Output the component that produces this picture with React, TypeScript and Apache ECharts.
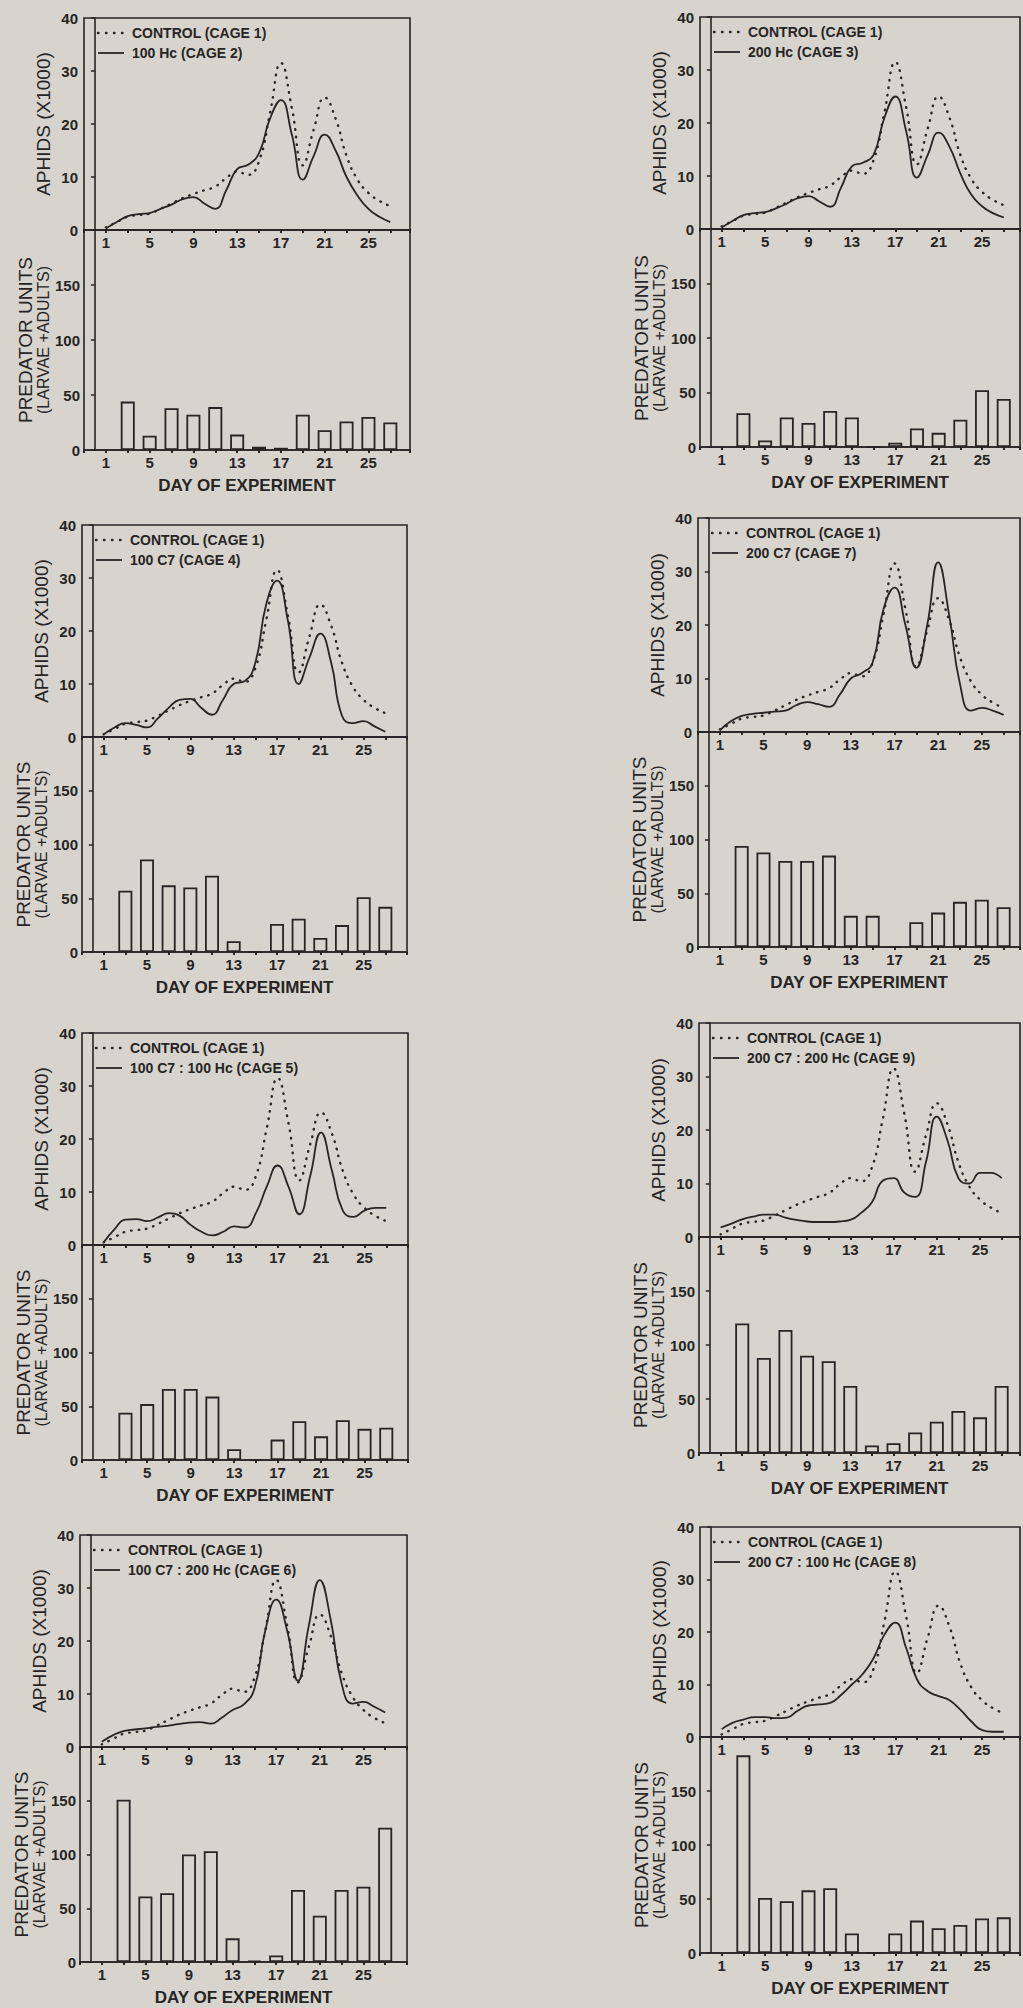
import React, { useEffect, useRef } from 'react';
import * as echarts from 'echarts';

// ---- data ----
const DAYS = [1, 2, 3, 4, 5, 6, 7, 8, 9, 10, 11, 12, 13, 14, 15, 16, 17, 18, 19, 20, 21, 22, 23, 24, 25, 26, 27];
const BAR_DAYS = [3, 5, 7, 9, 11, 13, 15, 17, 19, 21, 23, 25, 27];
const CONTROL_LABEL = 'CONTROL (CAGE 1)';
const CONTROL = [0.5, 1.5, 2.5, 2.8, 3.1, 4, 5, 6, 6.8, 7.5, 8.2, 9.8, 11, 10.4, 13, 22, 31.5, 23, 12.2, 19, 25, 21, 14, 9.5, 7, 5.5, 4.5];

const LABELS = [
  '100 Hc (CAGE 2)',
  '200 Hc (CAGE 3)',
  '100 C7 (CAGE 4)',
  '200 C7 (CAGE 7)',
  '100 C7 : 100 Hc (CAGE 5)',
  '200 C7 : 200 Hc (CAGE 9)',
  '100 C7 : 200 Hc (CAGE 6)',
  '200 C7 : 100 Hc (CAGE 8)',
];

const APHIDS_CAGE2 = [0.3, 1.5, 2.6, 3, 3.2, 4, 4.8, 5.8, 6.2, 5, 4, 7.5, 11.5, 12.3, 14.5, 21, 24.5, 18, 9.5, 14, 18, 15, 10, 6.5, 4, 2.5, 1.5];
const APHIDS_CAGE3 = [0.3, 1.5, 2.6, 3, 3.2, 3.9, 4.8, 5.8, 6.2, 5.2, 4.2, 7.8, 11.8, 12.5, 14, 21, 25, 18.5, 9.7, 14, 18.2, 15.5, 10.5, 6.5, 4.3, 3, 2.2];
const APHIDS_CAGE4 = [0.5, 1.8, 2.6, 2.3, 1.8, 3.5, 5.5, 7, 7.2, 5.5, 4.2, 7, 10, 10.5, 14, 25, 29.5, 22, 10, 15, 19.5, 14, 4, 2.6, 3, 2, 1];
const APHIDS_CAGE7 = [0.3, 2, 3, 3.4, 3.6, 3.8, 4, 5, 5.6, 5.2, 4.7, 7, 10, 11, 13, 23, 27, 20, 12, 20, 31.7, 22, 9, 4, 4.5, 4, 3.2];
const APHIDS_CAGE5 = [0.5, 3, 4.8, 4.9, 4.5, 5.2, 6, 5.5, 3.8, 2.5, 1.8, 2.5, 3.5, 3.3, 6, 11, 15, 11, 5.8, 13, 21.2, 14, 6.5, 5.3, 6.5, 7, 7];
const APHIDS_CAGE9 = [1.8, 2.5, 3.3, 3.8, 4.2, 4.2, 3.6, 3.2, 2.9, 2.8, 2.8, 2.9, 3.2, 4.5, 6.5, 10.5, 11, 8.3, 7.5, 14, 22.5, 18, 11, 10, 12, 12, 11];
const APHIDS_CAGE6 = [1, 2.2, 3, 3.3, 3.5, 3.8, 4, 4.3, 4.6, 4.7, 4.4, 5.5, 7, 8, 11, 22, 27.8, 22, 12.5, 23, 31.5, 24, 12, 8.2, 8.5, 7.6, 6.5];
const APHIDS_CAGE8 = [1.5, 2.7, 3.3, 3.8, 3.8, 3.6, 3.7, 5, 6, 6.2, 6.5, 8, 10, 12, 15, 19.5, 21.8, 17, 11, 8.7, 7.8, 7, 5.2, 3, 1.3, 1, 1];

const PRED_CAGE2 = [44, 13, 38, 32, 39, 14, 3, 2, 32, 18, 26, 30, 25];
const PRED_CAGE3 = [31, 6, 27, 22, 33, 27, 0, 4, 17, 13, 25, 52, 44];
const PRED_CAGE4 = [57, 86, 62, 60, 71, 10, 0, 26, 31, 13, 25, 51, 42];
const PRED_CAGE7 = [94, 88, 80, 80, 85, 29, 29, 0, 23, 32, 42, 44, 37];
const PRED_CAGE5 = [44, 52, 66, 66, 59, 10, 0, 19, 36, 22, 37, 29, 30];
const PRED_CAGE9 = [120, 88, 114, 90, 85, 62, 7, 9, 19, 29, 39, 33, 62];
const PRED_CAGE6 = [151, 61, 64, 100, 103, 22, 1, 6, 67, 43, 67, 70, 125];
const PRED_CAGE8 = [183, 51, 48, 58, 60, 18, 0, 18, 30, 23, 26, 32, 33];

const APHIDS = [APHIDS_CAGE2, APHIDS_CAGE3, APHIDS_CAGE4, APHIDS_CAGE7, APHIDS_CAGE5, APHIDS_CAGE9, APHIDS_CAGE6, APHIDS_CAGE8];
const PRED = [PRED_CAGE2, PRED_CAGE3, PRED_CAGE4, PRED_CAGE7, PRED_CAGE5, PRED_CAGE9, PRED_CAGE6, PRED_CAGE8];

const APHID_TICKS = { min: 0, max: 40, interval: 10 };
const PRED_TICKS = { min: 0, max: 200, interval: 50 };

// ---- layout (pixels) ----
const LAYOUT = [
  { left: 84, width: 326, top: 18, zero: 230, bottom: 450, xMax: 28.8 },
  { left: 700, width: 322, top: 17, zero: 229, bottom: 447, xMax: 28.5 },
  { left: 82, width: 325, top: 525, zero: 737, bottom: 952, xMax: 29 },
  { left: 698, width: 324, top: 518, zero: 732, bottom: 947, xMax: 28.5 },
  { left: 82, width: 326, top: 1033, zero: 1245, bottom: 1460, xMax: 29 },
  { left: 699, width: 323, top: 1023, zero: 1237, bottom: 1453, xMax: 28.7 },
  { left: 80, width: 327, top: 1535, zero: 1747, bottom: 1962, xMax: 29 },
  { left: 700, width: 322, top: 1527, zero: 1737, bottom: 1953, xMax: 28.5 },
];

const FONT = '"Liberation Sans", Arial, Helvetica, sans-serif';
const INK = '#262524';
const BG = '#d6d4cc';

const dayLabel = (v: number) => {
  const r = Math.round(v);
  if (Math.abs(v - r) > 1e-6) return '';
  return r >= 1 && r <= 25 && (r - 1) % 4 === 0 ? String(r) : '';
};

function buildOption() {
  const grid: any[] = [];
  const xAxis: any[] = [];
  const yAxis: any[] = [];
  const series: any[] = [];
  const graphic: any[] = [];

  const tickLabel = { color: INK, fontSize: 15, fontWeight: 'bold', fontFamily: FONT };

  LABELS.forEach((label, i) => {
    const L = LAYOUT[i];
    const ga = i * 2;
    const gp = i * 2 + 1;
    grid.push({ left: L.left, top: L.top, width: L.width, height: L.zero - L.top, show: true, borderColor: INK, borderWidth: 1.6, backgroundColor: 'transparent' });
    grid.push({ left: L.left, top: L.zero, width: L.width, height: L.bottom - L.zero, show: true, borderColor: INK, borderWidth: 1.6, backgroundColor: 'transparent' });

    const xCommon = {
      type: 'value', min: -1, max: L.xMax, interval: 2,
      axisLine: { show: true, lineStyle: { color: INK, width: 1.6 } },
      axisTick: { show: true, length: 3, lineStyle: { color: INK, width: 2 } },
      splitLine: { show: false },
      axisLabel: { ...tickLabel, margin: 5, formatter: dayLabel },
    };
    xAxis.push({ ...xCommon, gridIndex: ga });
    xAxis.push({
      ...xCommon, gridIndex: gp,
      name: 'DAY OF EXPERIMENT', nameLocation: 'middle', nameGap: 27,
      nameTextStyle: { color: INK, fontSize: 17, fontWeight: 'bold', fontFamily: FONT },
    });

    const yCommon = {
      type: 'value',
      axisLine: { show: true, lineStyle: { color: INK, width: 1.6 } },
      axisTick: { show: true, length: 4, lineStyle: { color: INK, width: 1.5 } },
      splitLine: { show: false },
      nameLocation: 'middle', nameRotate: 90,
    };
    yAxis.push({
      ...yCommon, gridIndex: ga, ...APHID_TICKS,
      axisLabel: { ...tickLabel, margin: 6 },
      name: 'APHIDS (X1000)', nameGap: 31,
      nameTextStyle: { color: INK, fontSize: 19, fontFamily: FONT },
    });
    yAxis.push({
      ...yCommon, gridIndex: gp, ...PRED_TICKS,
      axisLabel: { ...tickLabel, margin: 4, formatter: (v: number) => (v >= 200 ? '' : String(v)) },
      name: '{a|PREDATOR UNITS}\n{b|(LARVAE +ADULTS)}', nameGap: 31,
      nameTextStyle: {
        color: INK, fontFamily: FONT,
        rich: {
          a: { fontSize: 19, lineHeight: 19, color: INK, fontFamily: FONT },
          b: { fontSize: 16, lineHeight: 17, color: INK, fontFamily: FONT },
        },
      },
    });

    series.push({
      type: 'line', name: CONTROL_LABEL, xAxisIndex: ga, yAxisIndex: ga,
      data: DAYS.map((d, k) => [d, CONTROL[k]]),
      smooth: 0.5, symbol: 'none', silent: true,
      lineStyle: { color: INK, width: 2.4, type: [0.5, 7], cap: 'round' },
    });
    series.push({
      type: 'line', name: label, xAxisIndex: ga, yAxisIndex: ga,
      data: DAYS.map((d, k) => [d, APHIDS[i][k]]),
      smooth: 0.5, symbol: 'none', silent: true,
      lineStyle: { color: INK, width: 1.8 },
    });
    series.push({
      type: 'bar', name: 'predators ' + label, xAxisIndex: gp, yAxisIndex: gp,
      data: BAR_DAYS.map((d, k) => [d, PRED[i][k]]),
      barWidth: 14, silent: true,
      itemStyle: { color: BG, borderColor: INK, borderWidth: 1.8 },
    });

    const lx = L.left + 14;
    const y1 = L.top + 15;
    const y2 = L.top + 35;
    graphic.push(
      { type: 'line', shape: { x1: lx, y1, x2: lx + 25, y2: y1 }, style: { stroke: INK, lineWidth: 2.4, lineDash: [0.5, 7.5], lineCap: 'round' } },
      { type: 'line', shape: { x1: lx, y1: y2, x2: lx + 26, y2 }, style: { stroke: INK, lineWidth: 1.8 } },
      { type: 'text', x: L.left + 48, y: y1, style: { text: CONTROL_LABEL, fill: INK, fontSize: 14, fontWeight: 'bold', fontFamily: FONT, verticalAlign: 'middle' } },
      { type: 'text', x: L.left + 48, y: y2, style: { text: label, fill: INK, fontSize: 14, fontWeight: 'bold', fontFamily: FONT, verticalAlign: 'middle' } },
    );
  });

  return { animation: false, backgroundColor: BG, grid, xAxis, yAxis, series, graphic };
}

export default function App() {
  const ref = useRef<HTMLDivElement>(null);
  useEffect(() => {
    document.body.style.margin = '0';
    document.body.style.background = BG;
    const chart = echarts.init(ref.current!, undefined, { renderer: 'svg' });
    chart.setOption(buildOption() as any);
    return () => chart.dispose();
  }, []);
  return <div ref={ref} style={{ position: 'absolute', left: 0, top: 0, width: 1023, height: 2008 }} />;
}
